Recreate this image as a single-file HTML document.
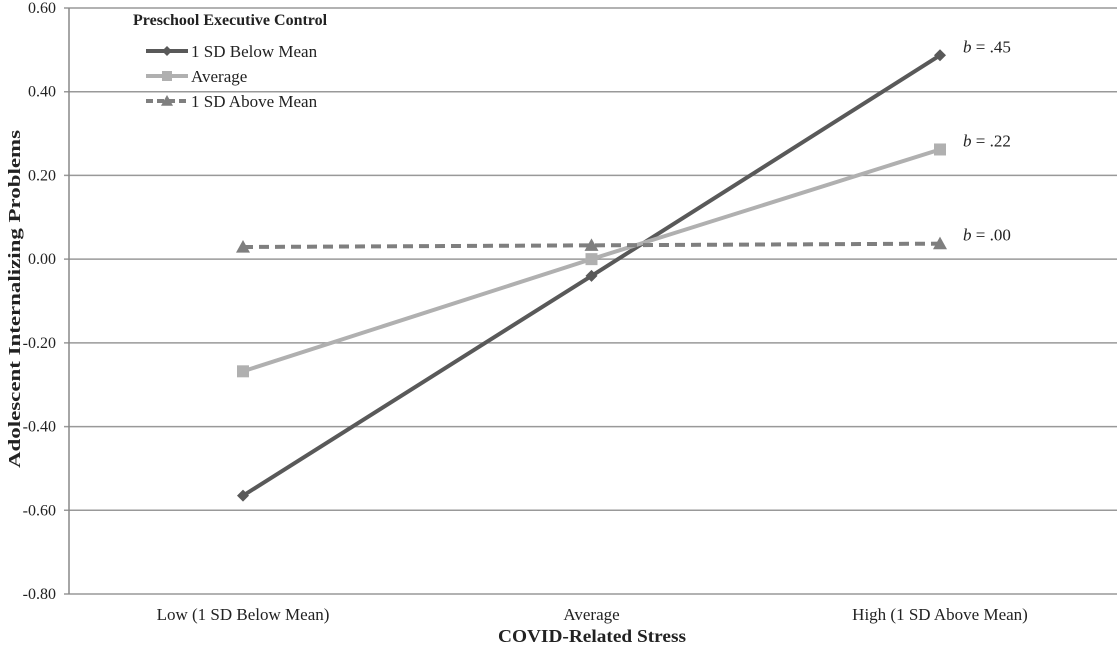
<!DOCTYPE html>
<html><head><meta charset="utf-8"><style>
body{margin:0;background:#fff;}
svg{display:block;font-family:"Liberation Serif",serif;}
</style></head><body>
<svg id="chart" width="1117" height="647"></svg>
<script>
const categories=["Low (1 SD Below Mean)","Average","High (1 SD Above Mean)"];
const belowMean=[-0.565,-0.04,0.487];
const averageEC=[-0.268,0.0,0.262];
const aboveMean=[0.029,0.033,0.037];
const yTicks=[0.6,0.4,0.2,0,-0.2,-0.4,-0.6,-0.8];
const yTickLabels=["0.60","0.40","0.20","0.00","-0.20","-0.40","-0.60","-0.80"];
const slopeLabels=[".45",".22",".00"];

const NS="http://www.w3.org/2000/svg";
const svg=document.getElementById('chart');
const L=69,R=1117,T=8,B=594,ymin=-0.8,ymax=0.6;
const y=v=>B-(v-ymin)/(ymax-ymin)*(B-T);
const xs=[243,592,940];
const x=i=>xs[0]+i*(xs[2]-xs[0])/(categories.length-1);
function mk(tag,attrs,parent){const e=document.createElementNS(NS,tag);for(const k in attrs)e.setAttribute(k,attrs[k]);(parent||svg).appendChild(e);return e;}

yTicks.forEach((t,i)=>{
  const g=mk('line',{x1:64,x2:R,y1:y(t),y2:y(t),stroke:'#999','stroke-width':1.5});
  
  
  const tx=mk('text',{x:56,y:y(t)+5,'text-anchor':'end','font-size':16,fill:'#222'});
  tx.textContent=yTickLabels[i];
  
  
});
const ax=mk('line',{x1:L,x2:L,y1:T,y2:B,stroke:'#888','stroke-width':1.5});


categories.forEach((c,i)=>{
  const t=mk('text',{x:x(i),y:620,'text-anchor':'middle','font-size':17,fill:'#222'});
  t.textContent=c;
  
  
});
const xt=mk('text',{x:592,y:642,'text-anchor':'middle','font-size':18,'font-weight':'bold',fill:'#222',textLength:188,lengthAdjust:'spacingAndGlyphs'});
xt.textContent="COVID-Related Stress";


const yt=mk('text',{x:0,y:0,'text-anchor':'middle','font-size':17,'font-weight':'bold',fill:'#222',transform:'translate(20,299) rotate(-90)',textLength:338,lengthAdjust:'spacingAndGlyphs'});
yt.textContent="Adolescent Internalizing Problems";



function marker(kind,cx,cy,color,s,parent){
  if(kind==='diamond')return mk('polygon',{points:`${cx},${cy-s} ${cx+s},${cy} ${cx},${cy+s} ${cx-s},${cy}`,fill:color},parent);
  if(kind==='square')return mk('rect',{x:cx-s,y:cy-s,width:2*s,height:2*s,fill:color},parent);
  return mk('polygon',{points:`${cx},${cy-s} ${cx+s},${cy+s*0.8} ${cx-s},${cy+s*0.8}`,fill:color},parent);
}
const series=[
 {name:'below-mean',data:belowMean,color:'#595959',dash:'',m:'diamond',ms:6},
 {name:'average',data:averageEC,color:'#b0b0b0',dash:'',m:'square',ms:6},
 {name:'above-mean',data:aboveMean,color:'#7f7f7f',dash:'10,6',m:'triangle',ms:7}
];
series.forEach((s,k)=>{
  const g=mk('g',{});
  
  
  const p=mk('polyline',{points:s.data.map((v,i)=>x(i)+','+y(v)).join(' '),fill:'none',stroke:s.color,'stroke-width':4,'stroke-dasharray':s.dash},g);
  
  
  s.data.forEach((v,i)=>{
    const m=marker(s.m,x(i),y(v),s.color,s.ms,g);
    
    
  });
  const lab=mk('text',{x:963,y:y(s.data[2])-3,'font-size':17,fill:'#222'},g);
  lab.innerHTML='<tspan font-style="italic">b</tspan> = '+slopeLabels[k];
  
  
});
const lg=mk('g',{});


const lt=mk('text',{x:133,y:25,'font-size':16,'font-weight':'bold',fill:'#222'},lg);
lt.textContent="Preschool Executive Control";
const names=["1 SD Below Mean","Average","1 SD Above Mean"];
series.forEach((s,k)=>{
  const yy=51+k*25;
  const e=mk('g',{},lg);
  
  
  mk('line',{x1:146,x2:188,y1:yy,y2:yy,stroke:s.color,'stroke-width':4,'stroke-dasharray':s.dash?'7,4':''},e);
  marker(s.m,167,yy,s.color,s.ms-1,e);
  const t=mk('text',{x:191,y:yy+6,'font-size':17,fill:'#222'},e);
  t.textContent=names[k];
});
</script>
</body></html>
